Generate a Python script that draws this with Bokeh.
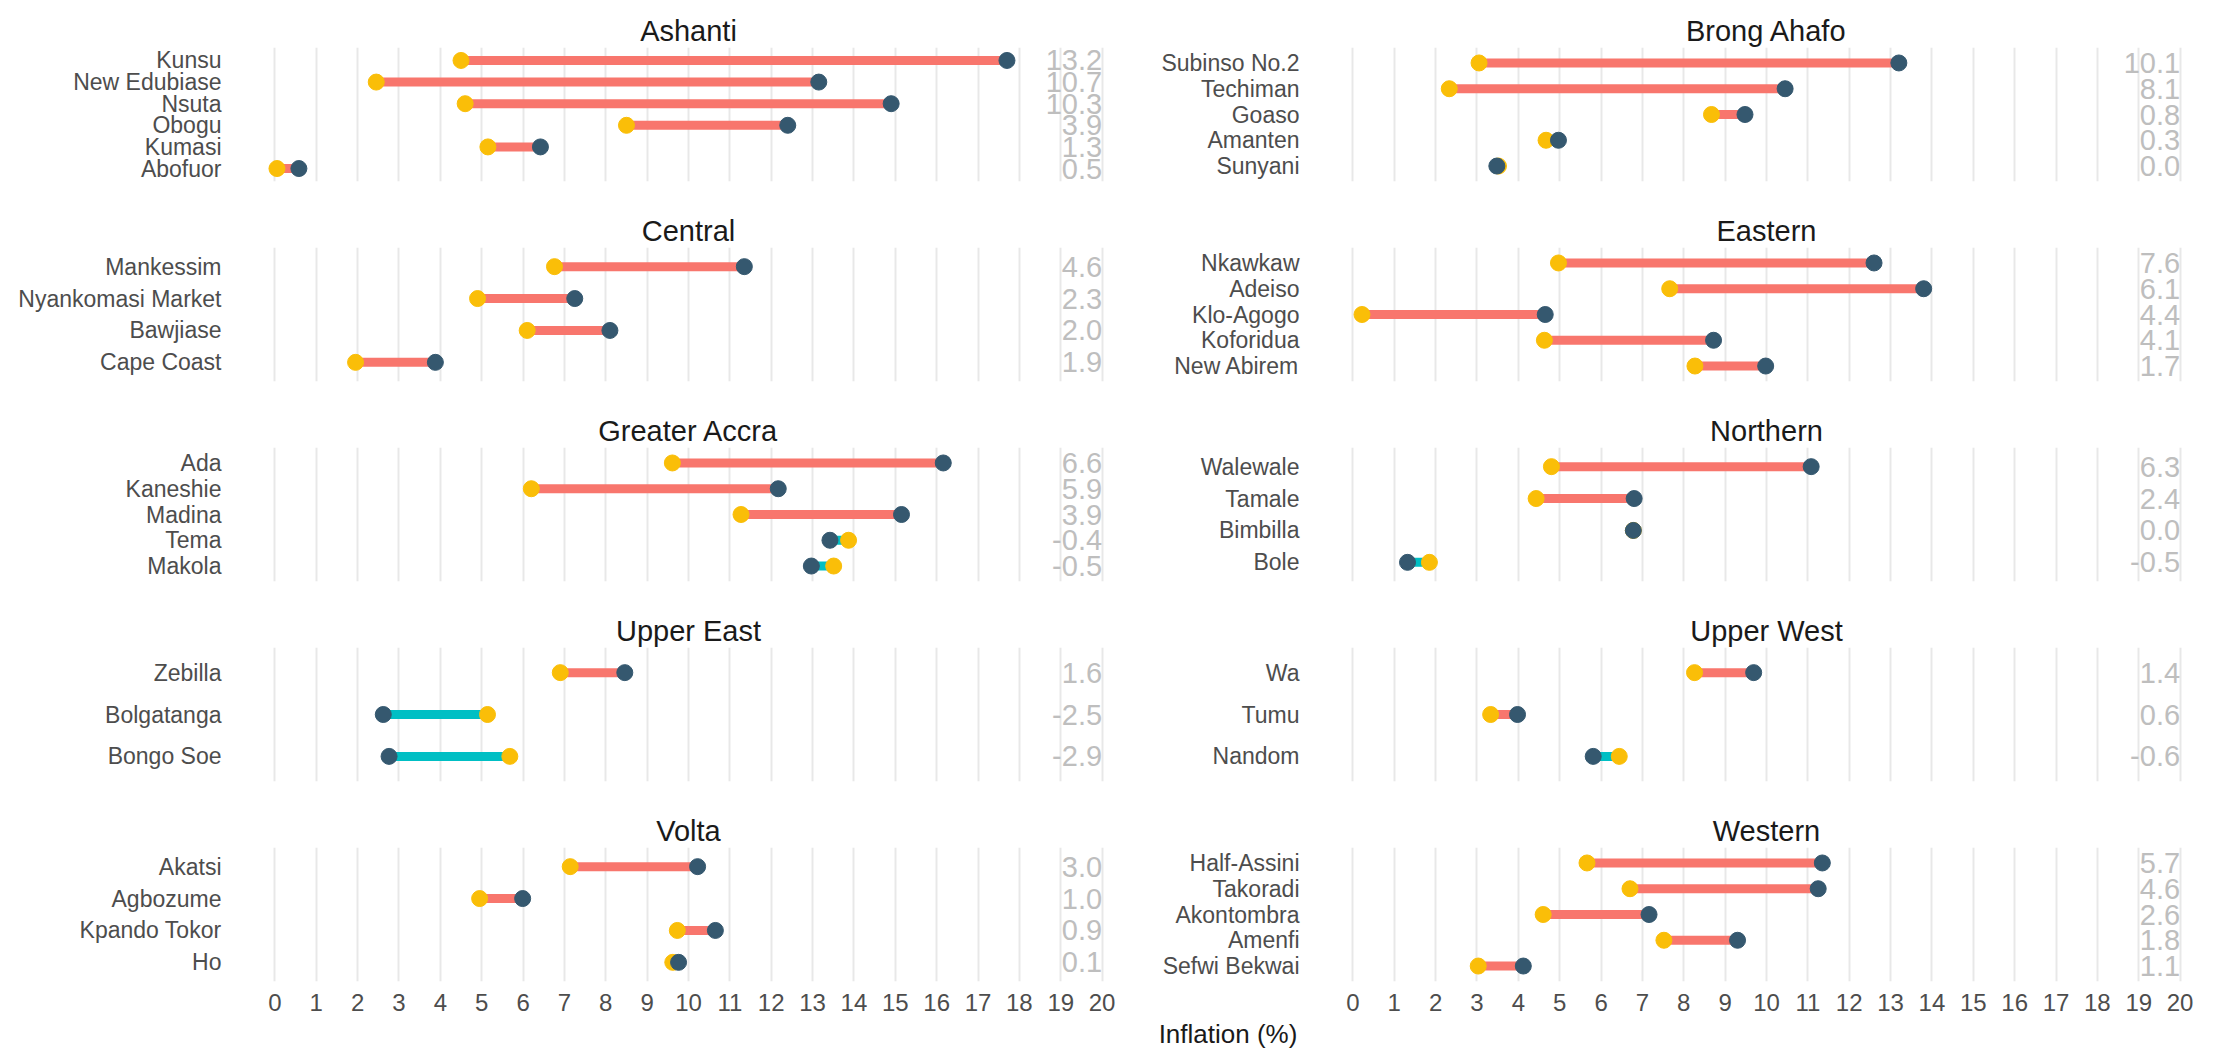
from bokeh.plotting import figure
from bokeh.layouts import gridplot, column, row
from bokeh.models import ColumnDataSource, FactorRange, FixedTicker, Div, Spacer, Range1d
from bokeh.embed import file_html
from bokeh.resources import INLINE
from bokeh.core.properties import value

# ---------------- data ----------------
regions = ["Ashanti", "Brong Ahafo", "Central", "Eastern", "Greater Accra",
           "Northern", "Upper East", "Upper West", "Volta", "Western"]

market_region = (["Ashanti"] * 6 + ["Brong Ahafo"] * 5 + ["Central"] * 4 +
                 ["Eastern"] * 5 + ["Greater Accra"] * 5 + ["Northern"] * 4 +
                 ["Upper East"] * 3 + ["Upper West"] * 3 + ["Volta"] * 4 +
                 ["Western"] * 5)

markets = [
    "Kunsu", "New Edubiase", "Nsuta", "Obogu", "Kumasi", "Abofuor",
    "Subinso No.2", "Techiman", "Goaso", "Amanten", "Sunyani",
    "Mankessim", "Nyankomasi Market", "Bawjiase", "Cape Coast",
    "Nkawkaw", "Adeiso", "Klo-Agogo", "Koforidua", "New Abirem",
    "Ada", "Kaneshie", "Madina", "Tema", "Makola",
    "Walewale", "Tamale", "Bimbilla", "Bole",
    "Zebilla", "Bolgatanga", "Bongo Soe",
    "Wa", "Tumu", "Nandom",
    "Akatsi", "Agbozume", "Kpando Tokor", "Ho",
    "Half-Assini", "Takoradi", "Akontombra", "Amenfi", "Sefwi Bekwai",
]

inflation_start = [
    4.5, 2.45, 4.6, 8.5, 5.15, 0.05,
    3.05, 2.33, 8.67, 4.67, 3.52,
    6.76, 4.9, 6.1, 1.95,
    4.97, 7.66, 0.22, 4.63, 8.27,
    9.61, 6.2, 11.27, 13.87, 13.51,
    4.8, 4.43, 6.78, 1.85,
    6.9, 5.14, 5.68,
    8.26, 3.33, 6.44,
    7.14, 4.95, 9.73, 9.62,
    5.66, 6.7, 4.6, 7.52, 3.03,
]

inflation_end = [
    17.7, 13.15, 14.9, 12.4, 6.42, 0.58,
    13.2, 10.45, 9.48, 4.97, 3.48,
    11.35, 7.25, 8.1, 3.88,
    12.6, 13.8, 4.65, 8.72, 9.98,
    16.16, 12.17, 15.15, 13.42, 12.97,
    11.08, 6.8, 6.78, 1.32,
    8.46, 2.62, 2.76,
    9.69, 3.98, 5.81,
    10.22, 5.99, 10.65, 9.76,
    11.35, 11.25, 7.16, 9.3, 4.12,
]

change_label = [
    "13.2", "10.7", "10.3", "3.9", "1.3", "0.5",
    "10.1", "8.1", "0.8", "0.3", "0.0",
    "4.6", "2.3", "2.0", "1.9",
    "7.6", "6.1", "4.4", "4.1", "1.7",
    "6.6", "5.9", "3.9", "-0.4", "-0.5",
    "6.3", "2.4", "0.0", "-0.5",
    "1.6", "-2.5", "-2.9",
    "1.4", "0.6", "-0.6",
    "3.0", "1.0", "0.9", "0.1",
    "5.7", "4.6", "2.6", "1.8", "1.1",
]

x_ticks = list(range(0, 21))
x_title = "Inflation (%)"

# ---------------- styles ----------------
YELLOW = "#FABE08"
BLUE = "#35586F"
RED = "#F8766D"
CYAN = "#00BFC4"
GRID = "#E8E8E8"
LABEL = "#4D4D4D"
FONT = "Liberation Sans"

FRAME_W = 852
FRAME_H = 134


def panel(region, col, first, last):
    idx = [i for i, r in enumerate(market_region) if r == region]
    names = [markets[i] for i in idx]
    s = [inflation_start[i] for i in idx]
    e = [inflation_end[i] for i in idx]
    lab = [change_label[i] for i in idx]
    colors = [RED if b > a else CYAN for a, b in zip(s, e)]
    src = ColumnDataSource(dict(market=names, start=s, end=e, label=lab,
                                color=colors, lx=[x_ticks[-1]] * len(names)))

    p = figure(
        x_range=Range1d(x_ticks[0] - 0.3, x_ticks[-1] + 0.3),
        y_range=FactorRange(factors=names[::-1], range_padding=0.1,
                            range_padding_units="absolute"),
        frame_width=FRAME_W, frame_height=FRAME_H,
        min_border_left=262 if col == 0 else 220,
        min_border_right=6 if col == 0 else 8,
        min_border_top=47 if first else 39,
        min_border_bottom=40 if last else 27,
        toolbar_location=None, output_backend="svg", title=region,
    )
    p.outline_line_color = None
    p.background_fill_color = "white"
    p.border_fill_color = "white"

    p.title.align = "center"
    p.title.text_font = FONT
    p.title.text_font_size = "29px"
    p.title.text_font_style = "normal"
    p.title.text_color = "#1A1A1A"
    p.title.standoff = 2

    p.ygrid.visible = False
    p.xgrid.ticker = FixedTicker(ticks=x_ticks)
    p.xgrid.grid_line_color = GRID
    p.xgrid.grid_line_width = 2

    p.yaxis.axis_line_color = None
    p.yaxis.major_tick_line_color = None
    p.yaxis.major_tick_out = 0
    p.yaxis.major_tick_in = 0
    p.yaxis.major_label_standoff = 41
    p.yaxis.major_label_text_font = FONT
    p.yaxis.major_label_text_font_size = "23px"
    p.yaxis.major_label_text_color = LABEL

    p.xaxis.ticker = FixedTicker(ticks=x_ticks)
    p.xaxis.axis_line_color = None
    p.xaxis.major_tick_line_color = None
    p.xaxis.minor_tick_line_color = None
    p.xaxis.major_tick_out = 0
    p.xaxis.major_tick_in = 0
    p.xaxis.major_label_standoff = 12
    p.xaxis.major_label_text_font = FONT
    p.xaxis.major_label_text_font_size = "24px"
    p.xaxis.major_label_text_color = LABEL
    if not last:
        p.xaxis.visible = False

    p.segment(x0="start", y0="market", x1="end", y1="market",
              line_color="color", line_width=9, source=src)
    p.scatter(x="start", y="market", size=16, fill_color=YELLOW,
              line_color=YELLOW, source=src)
    p.scatter(x="end", y="market", size=16, fill_color=BLUE,
              line_color=BLUE, source=src)
    p.text(x="lx", y="market", text="label", text_align="right",
           text_baseline="middle", text_font=value(FONT),
           text_font_size="29px", text_color="#BEBEBE", source=src)
    return p


figs = []
n_rows = len(regions) // 2
for k, reg in enumerate(regions):
    figs.append(panel(reg, k % 2, k // 2 == 0, k // 2 == n_rows - 1))

grid = gridplot(figs, ncols=2, toolbar_location=None)

title_div = Div(text=x_title, width=400, height=34, margin=0,
                styles={"font-family": FONT, "font-size": "26px",
                        "color": "#1A1A1A", "text-align": "center",
                        "width": "400px", "line-height": "26px"})
layout = column(grid, row(Spacer(width=1028, height=34), title_div))

open("out.html", "w").write(file_html(layout, INLINE))
